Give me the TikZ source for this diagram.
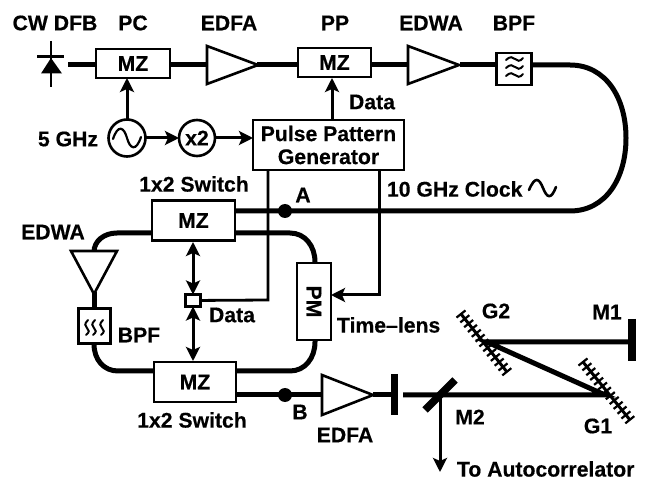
\documentclass[tikz,border=0pt]{standalone}
\usepackage{fontspec}
\setmainfont[BoldFeatures={FakeBold=0.4}]{Liberation Sans}
\usetikzlibrary{arrows.meta,shapes.geometric,calc}
\tikzset{
 x=1pt,y=-1pt,
 every node/.style={font=\fontsize{21.2}{23}\selectfont\bfseries,inner sep=0pt,outer sep=0pt},
 lbl/.style={},
 boxn/.style={draw=black,line width=2.6pt,fill=white,rectangle},
 circn/.style={draw=black,line width=2.6pt,fill=white,circle},
 amp/.style={draw=black,line width=2.6pt,fill=white,isosceles triangle,isosceles triangle stretches,isosceles triangle apex angle=42,minimum height=51pt,minimum width=38pt,anchor=lower side},
 fiber/.style={line width=5pt,draw=black},
 elec/.style={line width=2.8pt,draw=black},
 beam/.style={line width=5pt,draw=black},
 bar/.style={line width=7.5pt,draw=black},
 sig/.style={line width=3pt,draw=black,-{Stealth[length=14pt,width=14pt,inset=3pt]}},
 sigb/.style={line width=3pt,draw=black,{Stealth[length=14pt,width=14pt,inset=3pt]}-{Stealth[length=14pt,width=14pt,inset=3pt]}},
 wave/.style={line width=2.2pt,draw=black,line cap=round},
 grat/.style={line width=3pt,draw=black}
}
\begin{document}
\begin{tikzpicture}
\useasboundingbox (0,0) rectangle (646,481);
\coordinate (src) at (68,65);
\coordinate (A) at (285,211);
\coordinate (B) at (285,395);
\coordinate (turnA) at (570,65);
\coordinate (turnB) at (570,211);
\coordinate (m2c) at (440,395);
\coordinate (g1c) at (605,395);
\coordinate (g2c) at (487,342);
\coordinate (m1c) at (632,342);
\coordinate (bar1) at (394.5,395);
\coordinate (afterbar) at (403,395);
\coordinate (out) at (440,472);
\coordinate (pmclk) at (379,295);

% fiber lines
\draw[fiber] (src) -- (96,65);
\draw[fiber] (170,65) -- (207,65);
\draw[fiber] (257,65) -- (298,65);
\draw[fiber] (371,65) -- (408,65);
\draw[fiber] (460,65) -- (496,65);
\draw[fiber] (532,65) -- (turnA) .. controls (606,65) and (626,98) .. (626,138) .. controls (626,178) and (606,211) .. (turnB) -- (235,211);
\draw[fiber] (235,233) -- (290,233) .. controls (305,233) and (315,246) .. (315,262) -- (315,342) .. controls (315,358) and (305,371) .. (290,371) -- (236,371);
\draw[fiber] (152,233) -- (117,233) .. controls (104,233) and (94,241) .. (94,252);
\draw[fiber] (94,292) -- (94,309);
\draw[fiber] (94,344) .. controls (94,360) and (104,371) .. (118,371) -- (154,371);
\draw[fiber] (236,395) -- (322,395);
\draw[fiber] (373,395) -- (bar1);

\node[boxn,minimum width=74pt,minimum height=29pt] (pc) at (133,63.5) {MZ};
\node[amp] (edfa1) at (207,65) {};
\node[boxn,minimum width=73pt,minimum height=29pt] (pp) at (334.5,62.5) {MZ};
\node[amp] (edwa1) at (408,65) {};
\node[boxn,minimum width=35pt,minimum height=32pt] (bpf1) at (514,69) {};
\node[circn,minimum size=37pt] (osc) at (127,138) {};
\node[circn,minimum size=36pt] (x2) at (197,138) {x2};
\node[boxn,minimum width=151pt,minimum height=50pt,align=center,font=\fontsize{21.2}{23}\selectfont\bfseries] (ppg) at (328.5,145) {Pulse Pattern\\Generator};
\node[boxn,minimum width=83pt,minimum height=40pt] (sw1) at (193.5,220.5) {MZ};
\node[boxn,minimum width=82pt,minimum height=40pt] (sw2) at (195,382) {MZ};
\node[boxn,minimum width=34pt,minimum height=77pt] (pm) at (314,301.5) {\rotatebox{-90}{PM}};
\node[boxn,minimum width=32pt,minimum height=35pt] (bpf2) at (94.5,326) {};
\node[boxn,minimum width=15pt,minimum height=12pt] (split) at (193,300.5) {};
\node[amp,shape border rotate=-90,minimum height=43pt,minimum width=46pt] (edwa2) at (94,251) {};
\node[amp,minimum height=51pt,minimum width=40pt] (edfa2) at (322,395) {};
\node[circle,fill=black,minimum size=14pt] (dotA) at (A) {};
\node[circle,fill=black,minimum size=14pt] (dotB) at (B) {};

% diode
\draw[elec] (51,41) -- (51,87);
\draw[line width=3pt] (37,57) -- (64,57);
\fill (51,58) -- (62,73.5) -- (41,73.5) -- cycle;

% electrical
\draw[sig] (osc) -- (osc |- pc.south);
\draw[sig] (osc) -- (x2);
\draw[sig] (x2) -- (x2 -| ppg.west);
\draw[sig] (332,120) -- (332,78);
\draw[elec] (268,170) -- (268,300) -- (split);
\draw[sig] (379,170) -- (pmclk) -- (pm.east |- pmclk);
\draw[sigb] (193,242) -- (split);
\draw[sigb] (split) -- (193,361);

% glyphs
\draw[wave] (113,139) .. controls (118,124) and (124,127) .. (127,138) .. controls (130,149) and (136,152) .. (141,137);
\draw[wave,line width=2.6pt] (529,190) .. controls (535,176) and (539,178) .. (543,188) .. controls (547,198) and (551,200) .. (556,187);
\foreach \yy in {59,67,75}{
 \draw[wave,line width=2pt] (506,\yy+1) .. controls (510,\yy-3) and (513,\yy-2) .. (515,\yy) .. controls (517,\yy+2) and (520,\yy+3) .. (523,\yy-1);
}
\foreach \xx in {87,94,102}{
 \draw[wave,line width=2pt] (\xx+1,320) .. controls (\xx-3,324) and (\xx-2,326) .. (\xx,328) .. controls (\xx+2,330) and (\xx+3,332) .. (\xx-1,335);
}

% free-space
\draw[bar] (bar1 |- 0,374) -- (bar1 |- 0,415);
\draw[beam] (afterbar) -- (g1c) -- (g2c) -- (m1c);
\draw[bar] (m1c |- 0,319) -- (m1c |- 0,361);
\draw[bar] (425,410) -- (455,380);
\draw[sig] (m2c) -- (out);
% gratings
\coordinate (g2a) at (461,314);
\coordinate (g2b) at (507,372);
\coordinate (g1a) at (583,362);
\coordinate (g1b) at (630,420);
\draw[grat] (g2a) -- (g2b);
\draw[grat] (g1a) -- (g1b);
\foreach \t in {0,0.083,...,1.01}{
 \draw[line width=2.2pt] ($(g2a)!\t!(g2b)+(4.5,-3.6)$) -- ($(g2a)!\t!(g2b)+(-4.5,3.6)$);
 \draw[line width=2.2pt] ($(g1a)!\t!(g1b)+(4.5,-3.6)$) -- ($(g1a)!\t!(g1b)+(-4.5,3.6)$);
}

% labels
\node[lbl] (l1) at (55,23) {CW DFB};
\node[lbl] (l2) at (133,23) {PC};
\node[lbl] (l3) at (229,23) {EDFA};
\node[lbl] (l4) at (335,23) {PP};
\node[lbl] (l5) at (431,23) {EDWA};
\node[lbl] (l6) at (514,23) {BPF};
\node[lbl] (l7) at (68,139) {5 GHz};
\node[lbl] (l8) at (372,102) {Data};
\node[lbl,anchor=west] (l9) at (387,189) {10 GHz Clock};
\node[lbl] (l10) at (194,184) {1x2 Switch};
\node[lbl] (l11) at (303,195) {A};
\node[lbl] (l12) at (53,232) {EDWA};
\node[lbl] (l13) at (139,335) {BPF};
\node[lbl] (l14) at (232,315) {Data};
\node[lbl] (l15) at (192,420) {1x2 Switch};
\node[lbl] (l16) at (300,412) {B};
\node[lbl] (l17) at (345,435) {EDFA};
\node[lbl,anchor=west] (l18) at (337,325) {Time--lens};
\node[lbl] (l19) at (496,311) {G2};
\node[lbl] (l20) at (607,312) {M1};
\node[lbl] (l21) at (470,417) {M2};
\node[lbl] (l22) at (598,426) {G1};
\node[lbl,anchor=west] (l23) at (457,469) {To Autocorrelator};
\end{tikzpicture}
\end{document}
